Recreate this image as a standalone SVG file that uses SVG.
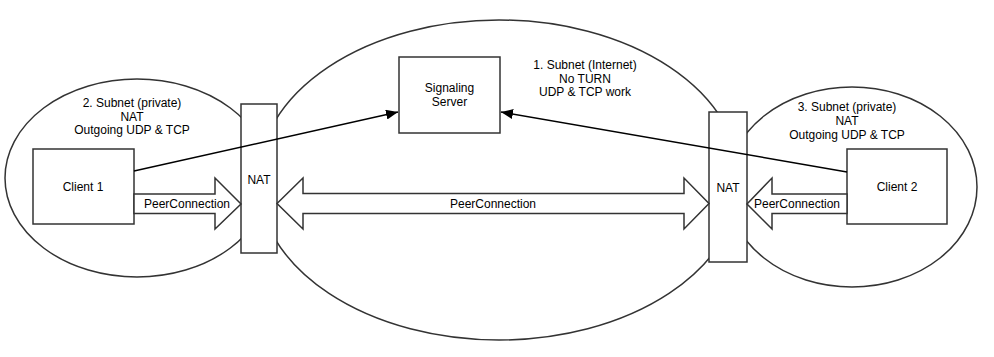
<svg xmlns="http://www.w3.org/2000/svg" width="994" height="357" viewBox="0 0 994 357">
<defs>
<style>
.sh{fill:#fff;stroke:#333;stroke-width:1.5}
.t{font-family:"Liberation Sans",Arial,sans-serif;font-size:12px;fill:#000;text-anchor:middle;dominant-baseline:central}
.ln{fill:none;stroke:#000;stroke-width:1.5}
</style>
<marker id="ah" viewBox="0 0 12 10" refX="12" refY="5" markerWidth="12" markerHeight="10" markerUnits="userSpaceOnUse" orient="auto">
<path d="M0,0 L12,5 L0,10 Z" fill="#000"/>
</marker>
</defs>
<rect width="994" height="357" fill="#fff"/>
<g id="subnet2">
<ellipse class="sh" cx="137" cy="178" rx="132" ry="99"/>
<text class="t" x="132" y="103">2. Subnet (private)</text>
<text class="t" x="132" y="116.5">NAT</text>
<text class="t" x="132" y="130">Outgoing UDP &amp; TCP</text>
</g>
<g id="subnet3">
<ellipse class="sh" cx="852" cy="187" rx="125" ry="100"/>
<text class="t" x="847" y="107">3. Subnet (private)</text>
<text class="t" x="847" y="121">NAT</text>
<text class="t" x="847" y="135">Outgoing UDP &amp; TCP</text>
</g>
<g id="subnet1">
<ellipse class="sh" cx="499" cy="180" rx="241" ry="160"/>
<text class="t" x="585" y="65">1. Subnet (Internet)</text>
<text class="t" x="585" y="78.5">No TURN</text>
<text class="t" x="585" y="92">UDP &amp; TCP work</text>
</g>
<g id="signaling">
<rect class="sh" x="399" y="57" width="101" height="76"/>
<text class="t" x="449.5" y="88">Signaling</text>
<text class="t" x="449.5" y="102">Server</text>
</g>
<g id="nat1">
<rect class="sh" x="241" y="104" width="36" height="149"/>
<text class="t" x="259" y="180">NAT</text>
</g>
<g id="nat2">
<rect class="sh" x="709" y="112" width="38" height="150"/>
<text class="t" x="728" y="188">NAT</text>
</g>
<g id="client1">
<rect class="sh" x="33" y="149" width="101" height="75"/>
<text class="t" x="83" y="187">Client 1</text>
</g>
<g id="client2">
<rect class="sh" x="847" y="149" width="100" height="75"/>
<text class="t" x="897" y="187">Client 2</text>
</g>
<g id="connectors">
<line class="ln" x1="134" y1="171" x2="398" y2="112" marker-end="url(#ah)"/>
<line class="ln" x1="847" y1="172" x2="501" y2="112" marker-end="url(#ah)"/>
<path class="sh" d="M134,194 L215,194 L215,178 L241,204 L215,229 L215,213.5 L134,213.5 Z"/>
<text class="t" x="187" y="204">PeerConnection</text>
<path class="sh" d="M277,203.5 L303,178 L303,193.5 L684,193.5 L684,178 L709,203.5 L684,229 L684,213.5 L303,213.5 L303,229 Z"/>
<text class="t" x="493" y="204">PeerConnection</text>
<path class="sh" d="M847,194 L772,194 L772,178 L747,204 L772,229 L772,213.5 L847,213.5 Z"/>
<text class="t" x="797" y="204">PeerConnection</text>
</g>
</svg>
